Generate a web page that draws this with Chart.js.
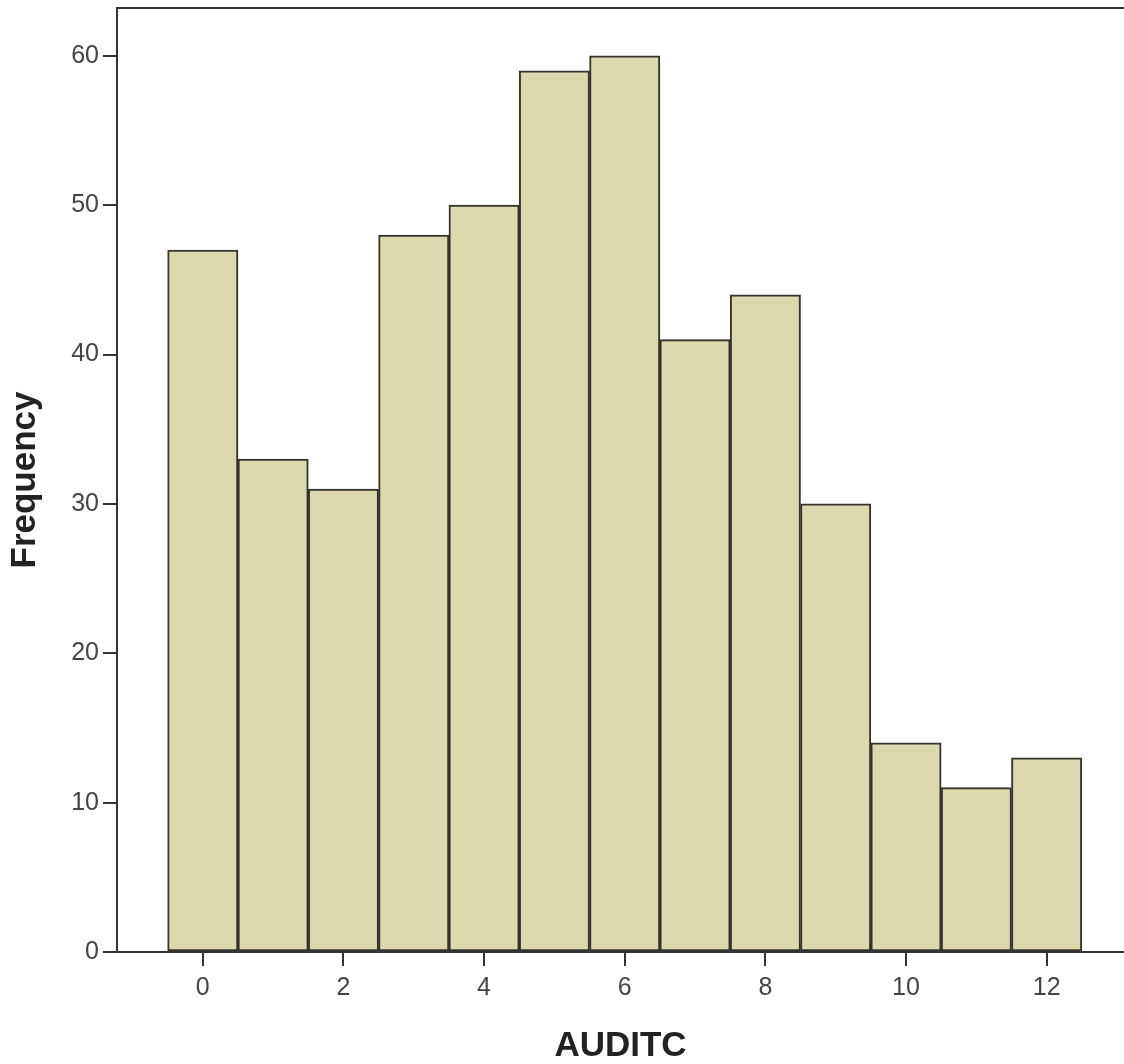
<!DOCTYPE html>
<html>
<head>
<meta charset="utf-8">
<script src="https://cdn.jsdelivr.net/npm/chart.js@4/dist/chart.umd.min.js"></script>
<style>
  html, body { margin: 0; padding: 0; background: #ffffff; }
  #wrap { width: 1124px; height: 1064px; }
</style>
</head>
<body>
<div id="wrap"><canvas id="c" width="1124" height="1064"></canvas></div>
<script>
const categories = [0, 1, 2, 3, 4, 5, 6, 7, 8, 9, 10, 11, 12];
const frequencies = [47, 33, 31, 48, 50, 59, 60, 41, 44, 30, 14, 11, 13];
const xTickValues = [0, 2, 4, 6, 8, 10, 12];
const yTickValues = [0, 10, 20, 30, 40, 50, 60];

const points = categories.map((c, i) => ({ x: c, y: frequencies[i] }));
const axisColor = '#333333';
const labelColor = '#444444';
const fontFamily = '"Liberation Sans", Arial, sans-serif';

function noPad(s) {
  s.paddingTop = 0; s.paddingBottom = 0; s.paddingLeft = 0; s.paddingRight = 0;
}

new Chart(document.getElementById('c'), {
  type: 'bar',
  data: {
    datasets: [{
      data: points,
      backgroundColor: '#dbd9ad',
      borderColor: '#34342c',
      borderWidth: 2,
      borderSkipped: false,
      barPercentage: 1,
      categoryPercentage: 1,
      grouped: false
    }]
  },
  options: {
    responsive: false,
    animation: false,
    layout: { padding: 0 },
    plugins: { legend: { display: false }, tooltip: { enabled: false } },
    scales: {
      x: {
        type: 'linear',
        position: 'bottom',
        offset: false,
        min: -1.22,
        max: 13.1,
        afterBuildTicks: s => { s.ticks = xTickValues.map(v => ({ value: v })); },
        afterFit: s => { s.height = 112; noPad(s); },
        grid: { display: true, offset: false, drawOnChartArea: false, drawTicks: true, tickLength: 14, color: axisColor, lineWidth: 2 },
        border: { display: true, color: axisColor, width: 2 },
        ticks: { color: labelColor, padding: 7, font: { family: fontFamily, size: 25 }, maxRotation: 0, autoSkip: false },
        title: { display: true, text: 'AUDITC', color: '#222222', padding: { top: 0, bottom: 0 }, font: { family: fontFamily, size: 35, weight: 'bold', lineHeight: 1 } }
      },
      xTop: {
        type: 'linear',
        position: 'top',
        offset: false,
        min: -1.22,
        max: 13.1,
        afterFit: s => { s.height = 8; noPad(s); },
        grid: { display: false, drawTicks: false, offset: false },
        border: { display: true, color: axisColor, width: 2 },
        ticks: { display: false }
      },
      y: {
        type: 'linear',
        position: 'left',
        min: 0,
        max: 63.2,
        afterBuildTicks: s => { s.ticks = yTickValues.map(v => ({ value: v })); },
        afterFit: s => { s.width = 117; noPad(s); },
        grid: { display: true, drawOnChartArea: false, drawTicks: true, tickLength: 14, color: axisColor, lineWidth: 2 },
        border: { display: true, color: axisColor, width: 2 },
        ticks: { color: labelColor, padding: 4, font: { family: fontFamily, size: 25 } },
        title: { display: true, text: 'Frequency', color: '#222222', padding: { top: 8, bottom: 0 }, font: { family: fontFamily, size: 35, weight: 'bold', lineHeight: 1 } }
      }
    }
  }
});
</script>
</body>
</html>
